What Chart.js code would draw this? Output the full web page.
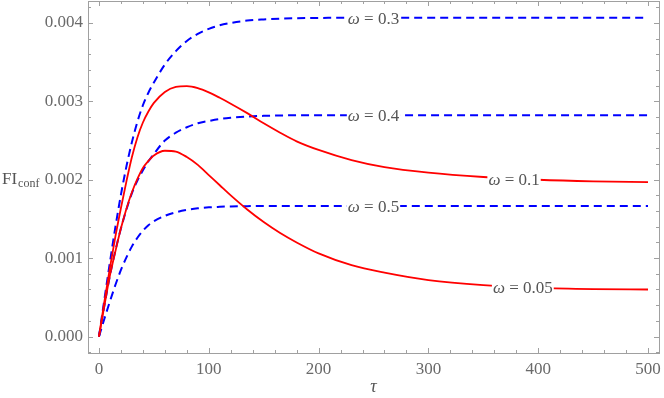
<!DOCTYPE html>
<html>
<head>
<meta charset="utf-8">
<script src="https://cdn.jsdelivr.net/npm/chart.js@4"></script>
<style>
  body { margin: 0; background: #fff; }
  #wrap { width: 664px; height: 398px; }
</style>
</head>
<body>
<div id="wrap"><canvas id="fig" width="664" height="398"></canvas></div>
<script>
// tau samples shared by all curves
const tau = [0, 5, 10, 15, 20, 25, 30, 35, 40, 45, 50, 60, 70, 80, 90, 100, 110, 120, 135, 150, 165, 180, 200, 230, 260, 300, 350, 400, 450, 500];

// red solid curves
const w005 = [0, 0.00040, 0.00078, 0.00109, 0.00138, 0.00163, 0.00184, 0.00201, 0.00215, 0.00224, 0.00231, 0.00237, 0.00236, 0.00229, 0.00219, 0.00206, 0.00193, 0.00180, 0.00162, 0.00146, 0.00132, 0.00120, 0.00106, 0.00091, 0.000815, 0.00072, 0.000655, 0.00062, 0.000605, 0.00060];
const w01 = [0, 0.00045, 0.00088, 0.00128, 0.00164, 0.00198, 0.00229, 0.00254, 0.00273, 0.00287, 0.00298, 0.00312, 0.003185, 0.003195, 0.00317, 0.003115, 0.003045, 0.00297, 0.00285, 0.00272, 0.00260, 0.00249, 0.00238, 0.00225, 0.00216, 0.00209, 0.002035, 0.00200, 0.00198, 0.00197];

// blue dashed curves
const w03 = [0, 0.00048, 0.00095, 0.00140, 0.00181, 0.00217, 0.00248, 0.00274, 0.00295, 0.00311, 0.00324, 0.00347, 0.00364, 0.00377, 0.00386, 0.003925, 0.00397, 0.00400, 0.00403, 0.004045, 0.004055, 0.00406, 0.004064, 0.004066, 0.004067, 0.004067, 0.004067, 0.004067, 0.004067, 0.004067];
const w04 = [0, 0.00040, 0.00078, 0.00110, 0.00138, 0.00162, 0.00183, 0.00199, 0.00212, 0.002235, 0.00233, 0.00250, 0.00260, 0.00267, 0.00272, 0.00275, 0.002775, 0.00279, 0.002805, 0.002815, 0.00282, 0.002823, 0.002823, 0.002823, 0.002823, 0.002823, 0.002823, 0.002823, 0.002823, 0.002823];
const w05 = [0, 0.00023, 0.00045, 0.00066, 0.00085, 0.00101, 0.00115, 0.00126, 0.00135, 0.00142, 0.00147, 0.00154, 0.001585, 0.001615, 0.001635, 0.001648, 0.001655, 0.00166, 0.001663, 0.001665, 0.001665, 0.001665, 0.001665, 0.001665, 0.001665, 0.001665, 0.001665, 0.001665, 0.001665, 0.001665];

// curve labels: text, tau position, which series
const labelText = ['0.3', '0.4', '0.5', '0.1', '0.05'];
const labelTau = [250, 250, 250, 378, 386];
const labelSeries = [w03, w04, w05, w01, w005];

const xTicks = [0, 100, 200, 300, 400, 500];
const yTicks = [0, 0.001, 0.002, 0.003, 0.004];

const SERIF = '"Times New Roman", "Liberation Serif", serif';
const GRAY = '#6a6a6a';

function pts(ys) {
  return tau.map((t, i) => ({ x: t, y: ys[i] }));
}

function valueAt(ys, t) {
  for (let i = 1; i < tau.length; i++) {
    if (t <= tau[i]) {
      const f = (t - tau[i - 1]) / (tau[i] - tau[i - 1]);
      return ys[i - 1] + f * (ys[i] - ys[i - 1]);
    }
  }
  return ys[ys.length - 1];
}

// frame with inward ticks on all four sides (Mathematica style)
const framePlugin = {
  id: 'frame',
  afterDraw(chart) {
    const ctx = chart.ctx;
    const a = chart.chartArea;
    const xs = chart.scales.x, ys = chart.scales.y;
    ctx.save();
    ctx.strokeStyle = '#a0a0a0';
    ctx.lineWidth = 1;
    ctx.strokeRect(Math.round(a.left) + 0.5, Math.round(a.top) + 0.5, Math.round(a.right - a.left), Math.round(a.bottom - a.top));
    ctx.beginPath();
    for (let v = -20; v <= 520; v += 20) {
      if (v < xs.min || v > xs.max) continue;
      const len = v % 100 === 0 ? 5 : 3;
      const px = Math.round(xs.getPixelForValue(v)) + 0.5;
      ctx.moveTo(px, a.bottom); ctx.lineTo(px, a.bottom - len);
      ctx.moveTo(px, a.top); ctx.lineTo(px, a.top + len);
    }
    for (let k = -1; k <= 21; k++) {
      const v = k * 0.0002;
      if (v < ys.min || v > ys.max) continue;
      const len = k % 5 === 0 ? 5 : 3;
      const py = Math.round(ys.getPixelForValue(v)) + 0.5;
      ctx.moveTo(a.left, py); ctx.lineTo(a.left + len, py);
      ctx.moveTo(a.right, py); ctx.lineTo(a.right - len, py);
    }
    ctx.stroke();

    // axis titles
    ctx.fillStyle = '#555';
    ctx.textBaseline = 'alphabetic';
    ctx.textAlign = 'left';
    ctx.font = '17px ' + SERIF;
    ctx.fillText('FI', 2, 184);
    const fiw = ctx.measureText('FI').width;
    ctx.font = '12px ' + SERIF;
    ctx.fillText('conf', 3 + fiw, 187);
    ctx.font = 'italic 18px ' + SERIF;
    ctx.textAlign = 'center';
    ctx.fillText('\u03c4', (a.left + a.right) / 2, 392);

    // curve labels with white box cutting the line
    for (let i = 0; i < labelText.length; i++) {
      const px = xs.getPixelForValue(labelTau[i]);
      const py = ys.getPixelForValue(valueAt(labelSeries[i], labelTau[i]));
      ctx.font = 'italic 17px ' + SERIF;
      const ow = ctx.measureText('\u03c9').width;
      ctx.font = '17px ' + SERIF;
      const rest = ' = ' + labelText[i];
      const rw = ctx.measureText(rest).width;
      const w = ow + rw;
      const x0 = px - w / 2;
      ctx.fillStyle = '#fff';
      ctx.fillRect(x0 - 1, py - 7, w + 2, 14);
      ctx.fillStyle = '#555';
      ctx.textAlign = 'left';
      ctx.textBaseline = 'alphabetic';
      ctx.font = 'italic 17px ' + SERIF;
      ctx.fillText('\u03c9', x0, py + 6);
      ctx.font = '17px ' + SERIF;
      ctx.fillText(rest, x0 + ow, py + 6);
    }
    ctx.restore();
  }
};

function red(ys) {
  return { data: pts(ys), borderColor: '#ff0000', borderWidth: 1.8, pointRadius: 0, fill: false, cubicInterpolationMode: 'monotone' };
}
function blue(ys) {
  return { data: pts(ys), borderColor: '#0000ff', borderWidth: 2, borderDash: [8, 5], pointRadius: 0, fill: false, cubicInterpolationMode: 'monotone' };
}

new Chart(document.getElementById('fig'), {
  type: 'line',
  data: {
    datasets: [red(w005), red(w01), blue(w03), blue(w04), blue(w05)]
  },
  options: {
    responsive: false,
    animation: false,
    layout: { padding: { top: 1, right: 5, left: 0, bottom: 0 } },
    plugins: { legend: { display: false }, tooltip: { enabled: false } },
    scales: {
      x: {
        type: 'linear',
        min: -10, max: 510,
        afterFit(s) { s.height = 45; s.paddingLeft = 0; s.paddingRight = 0; },
        afterBuildTicks(s) { s.ticks = xTicks.map(v => ({ value: v })); },
        grid: { display: false, drawTicks: false },
        border: { display: false },
        ticks: { padding: 6, color: GRAY, font: { family: SERIF, size: 17 }, maxRotation: 0 }
      },
      y: {
        type: 'linear',
        min: -0.00021, max: 0.00428,
        afterFit(s) { s.width = 88; s.paddingTop = 0; s.paddingBottom = 0; },
        afterBuildTicks(s) { s.ticks = yTicks.map(v => ({ value: v })); },
        grid: { display: false, drawTicks: false },
        border: { display: false },
        ticks: { padding: 5, color: GRAY, font: { family: SERIF, size: 17 }, callback: v => v.toFixed(3) }
      }
    }
  },
  plugins: [framePlugin]
});
</script>
</body>
</html>
